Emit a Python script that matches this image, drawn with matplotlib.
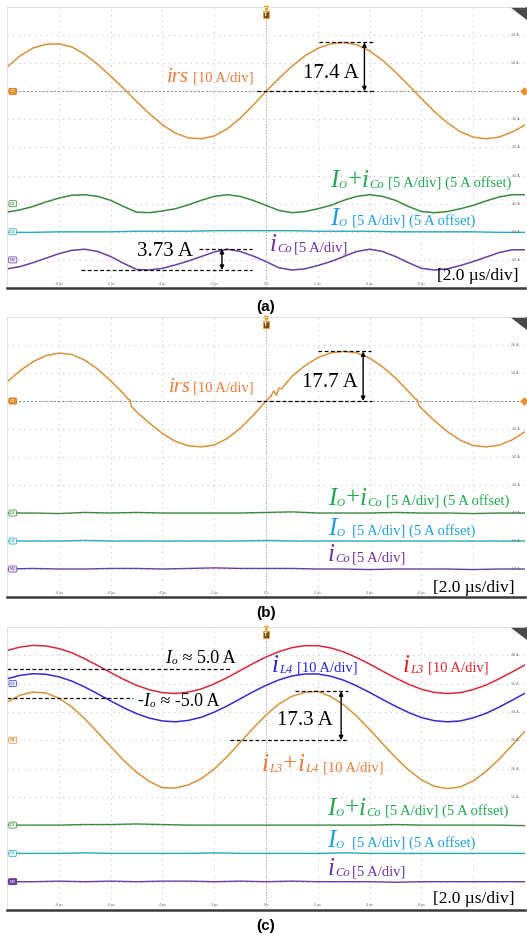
import matplotlib
matplotlib.use('Agg')
import matplotlib.pyplot as plt
from matplotlib.patches import Polygon

plt.rcParams['font.family'] = ['Liberation Serif', 'DejaVu Serif']

W, H = 527, 938

# ---- values (time in us, current in A) ----
t_half = [-10, -9.5, -9, -8.5, -8, -7.5, -7, -6.5, -6, -5.5, -5, -4.5, -4, -3.5,
          -3, -2.5, -2, -1.5, -1, -0.5, 0, 0.5, 1, 1.5, 2, 2.5, 3, 3.5, 4, 4.5,
          5, 5.5, 6, 6.5, 7, 7.5, 8, 8.5, 9, 9.5, 10]
t_one = [-10, -9, -8, -7, -6, -5, -4, -3, -2, -1, 0, 1, 2, 3, 4, 5, 6, 7, 8, 9, 10]

# (a)
irs_a = [8.6, 12.6, 15.4, 16.7, 16.9, 15.8, 13.2, 9.6, 5.4, 1.0,
         -3.6, -8.0, -11.9, -14.9, -16.6, -16.9, -15.9, -13.4, -9.6, -5.0,
         0.0, 4.6, 8.9, 12.6, 15.3, 16.9, 17.4, 16.6, 14.4, 11.0,
         6.8, 2.2, -2.6, -7.2, -11.2, -14.4, -16.3, -16.9, -16.3, -14.5, -12.0]
io_ico_a = [3.5, 3.9, 4.5, 5.3, 6.0, 6.5, 6.6, 6.3, 5.6, 4.5,
            3.5, 3.4, 3.7, 4.1, 4.8, 5.6, 6.3, 6.6, 6.3, 5.6,
            4.7, 3.8, 3.4, 3.6, 4.1, 4.7, 5.6, 6.3, 6.6, 6.3,
            5.6, 4.5, 3.6, 3.4, 3.6, 4.1, 4.7, 5.5, 6.2, 6.6, 6.6]
io_a = [4.9, 4.9, 5.0, 5.0, 5.0, 5.1, 5.1, 5.1, 5.2, 5.2, 5.2,
        5.2, 5.1, 5.1, 5.1, 5.0, 5.0, 5.0, 5.0, 4.9, 4.9]
ico_a = [-1.6, -1.2, -0.5, 0.3, 1.1, 1.7, 1.9, 1.5, 0.6, -0.6,
         -1.7, -1.8, -1.5, -0.9, -0.2, 0.6, 1.4, 1.9, 1.5, 0.7,
         -0.3, -1.4, -1.8, -1.6, -1.0, -0.3, 0.6, 1.5, 1.9, 1.5,
         0.6, -0.5, -1.5, -1.8, -1.6, -1.0, -0.3, 0.5, 1.3, 1.8, 1.8]

# (b)
t_irs_b = [-10, -9.5, -9, -8.5, -8, -7.5, -7, -6.5, -6, -5.5, -5.35, -5.25, -5.2,
           -5.0, -4.5, -4, -3.5, -3, -2.5, -2, -1.5, -1, -0.5, 0, 0.2, 0.3, 0.4,
           0.5, 0.6, 1, 1.5, 2, 2.5, 3, 3.5, 4, 4.5, 5, 5.5, 5.75, 5.85, 5.9, 6,
           6.5, 7, 7.5, 8, 8.5, 9, 9.5, 10]
irs_b = [6.8, 10.8, 14.0, 16.2, 17.1, 16.6, 14.6, 11.4, 7.2, 2.6, 0.9, 0.3, -1.9,
         -3.9, -7.9, -11.6, -14.4, -16.0, -16.4, -15.7, -13.4, -9.8, -5.2, 0.0, 1.9,
         3.6, 2.0, 4.6, 4.3, 8.8, 12.6, 15.5, 17.2, 17.7, 17.2, 15.3, 12.2, 8.2, 3.4,
         0.9, 0.3, -1.6, -2.6, -7.0, -10.9, -14.0, -15.9, -16.4, -15.8, -13.9, -11.0]
io_ico_b = [5.0, 5.0, 4.9, 5.1, 5.0, 5.1, 5.0, 5.0, 5.0, 5.0, 5.1,
            5.2, 5.0, 5.0, 5.0, 5.1, 5.0, 5.0, 4.9, 5.0, 5.0]
io_b = [5.0, 5.0, 5.0, 5.1, 5.0, 5.0, 5.0, 5.0, 5.0, 5.0, 5.1,
        5.0, 5.0, 5.0, 5.0, 5.0, 5.0, 5.0, 5.0, 5.0, 5.0]
ico_b = [0.0, 0.1, 0.0, 0.0, 0.1, 0.1, 0.0, 0.1, 0.2, 0.1, 0.1,
         0.1, 0.0, 0.0, -0.1, 0.0, 0.0, 0.0, -0.1, 0.0, 0.0]

# (c)
il3_c = [11.7, 12.9, 13.5, 13.3, 12.4, 10.9, 8.8, 6.4, 3.9, 1.5,
         -0.6, -2.2, -3.2, -3.5, -3.0, -1.9, -0.1, 2.1, 4.6, 7.1,
         9.4, 11.3, 12.7, 13.4, 13.4, 12.6, 11.2, 9.2, 6.9, 4.4,
         2.0, -0.2, -2.0, -3.1, -3.5, -3.2, -2.1, -0.5, 1.7, 4.1, 6.6]
il4_c = [1.7, 2.9, 3.5, 3.3, 2.4, 0.9, -1.2, -3.6, -6.1, -8.5,
         -10.6, -12.2, -13.2, -13.5, -13.0, -11.9, -10.1, -7.9, -5.4, -2.9,
         -0.6, 1.3, 2.7, 3.4, 3.4, 2.6, 1.2, -0.8, -3.1, -5.6,
         -8.0, -10.2, -12.0, -13.1, -13.5, -13.2, -12.1, -10.5, -8.3, -5.9, -3.4]
il34_c = [13.4, 15.9, 17.0, 16.7, 14.9, 11.8, 7.6, 2.8, -2.2, -7.1,
          -11.3, -14.6, -16.8, -16.9, -15.8, -13.6, -10.2, -5.8, -0.8, 4.2,
          8.9, 12.8, 15.5, 16.9, 17.3, 15.4, 12.5, 8.5, 3.8, -1.2,
          -6.1, -10.5, -14.0, -16.3, -17.1, -16.5, -14.4, -11.0, -6.7, -1.8, 3.2]
io_ico_c = [5.0, 5.0, 5.0, 5.1, 5.1, 5.2, 5.1, 5.0, 5.0, 5.0, 5.0,
            5.0, 5.0, 5.0, 5.0, 5.1, 5.0, 5.0, 5.0, 5.0, 4.9]
io_c = [5.0, 5.0, 5.0, 5.1, 5.0, 5.0, 5.0, 5.0, 5.1, 5.0, 5.0,
        5.0, 5.0, 5.1, 5.0, 5.0, 5.0, 5.0, 5.0, 5.0, 5.0]
ico_c = [0.0, 0.0, 0.1, 0.0, 0.1, 0.0, 0.1, 0.1, 0.0, 0.1, 0.0,
         0.1, 0.0, 0.0, 0.0, -0.1, 0.0, 0.0, 0.0, 0.0, 0.0]

# values written on the captures
irs_peak = [17.4, 17.7]
il34_peak = 17.3
ico_top, ico_pp = 1.95, 3.73
io_level = 5.0

# the 8 us label sits under the [2.0 us/div] text in the captures
tick_times = [-8, -6, -4, -2, 0, 2, 4, 6]
tick_names = ['-8 µs', '-6 µs', '-4 µs', '-2 µs', '0 s', '2 µs', '4 µs', '6 µs']
right_ab = ['20 A', '10 A', '', '-10 A', '-20 A', '-30 A', '-40 A', '-50 A', '-60 A']
right_c = ['40 A', '35 A', '30 A', '25 A', '20 A', '15 A', '', '', '']

# trace / label colours
OR_T, OR_L = '#D9923A', '#EE7B35'
GR_T, GR_L = '#3A8A3E', '#1FA84E'
CY_T, CY_L = '#2AABB5', '#1E9FE0'
PU_T, PU_L = '#6B3FA0', '#7030A0'
RD_T, RD_L = '#D42A3A', '#E32228'
BL_T, BL_L = '#2E2ED0', '#2323E6'

fig = plt.figure(figsize=(W / 100, H / 100), dpi=100)
renderer = fig.canvas.get_renderer()


def to_div(vals, pos, scale, off=0.0):
    return [pos + (v - off) / scale for v in vals]


def scope(top, bottom, right_names, tags, ref=None):
    ax = fig.add_axes([7 / W, 1 - bottom / H, 518 / W, (bottom - top) / H])
    ax.set_xlim(-10, 10)
    ax.set_ylim(-5, 5)
    ax.set_xticks([])
    ax.set_yticks([])
    for v in range(-8, 10, 2):
        ax.axvline(v, color='#c8c8c8', lw=0.8, ls=(0, (1, 4)), zorder=0)
    for d in range(-4, 5):
        ax.axhline(d, color='#c8c8c8', lw=0.8, ls=(0, (1, 4)), zorder=0)
    ax.axvline(0, color='#a0a0a0', lw=0.7, ls=(0, (1, 2)), zorder=0)
    if ref is not None:
        ax.axhline(ref, color='#8c8c8c', lw=0.7, ls=(0, (2, 2)), zorder=0)
    for s in ['top', 'left']:
        ax.spines[s].set_color('#dddddd')
        ax.spines[s].set_linewidth(0.6)
    ax.spines['right'].set_visible(False)
    ax.spines['bottom'].set_color('#3a3a3a')
    ax.spines['bottom'].set_linewidth(1.8)
    for tt, name in zip(tick_times, tick_names):
        ax.text(tt, -4.84, name, fontsize=2.3, color='#666666', ha='center',
                va='center', family='DejaVu Sans')
    for d, name in zip(range(4, -5, -1), right_names):
        ax.text(9.62, d, name, fontsize=2.3, color='#666666', ha='center',
                va='center', family='DejaVu Sans')
    # trigger marker
    ax.text(0, 4.74, 'T', fontsize=3.5, color='white', fontweight='bold',
            ha='center', va='center', family='DejaVu Sans',
            bbox=dict(boxstyle='square,pad=0.25', fc='#7a4e12', ec='#E8A030', lw=0.6))
    ax.plot([0], [4.97], marker='v', color='#E8A030', ms=3, clip_on=False)
    ax.add_patch(Polygon([(0.972, 1.0), (1.004, 1.0), (1.004, 0.955)],
                         closed=True, transform=ax.transAxes, fc='#4a4a4a',
                         ec='none', clip_on=False))
    for name, pos, ec, fc, tc in tags:
        ax.text(-9.78, pos, name, fontsize=3, color=tc, ha='center', va='center',
                family='DejaVu Sans',
                bbox=dict(boxstyle='round,pad=0.25', fc=fc, ec=ec, lw=0.5))
    return ax


def measure(ax, t0, t1, tb0, tb1, ta, ytop, ybot):
    ax.plot([t0, t1], [ytop, ytop], color='black', lw=0.9, ls=(0, (3, 2)))
    ax.plot([tb0, tb1], [ybot, ybot], color='black', lw=0.9, ls=(0, (3, 2)))
    ax.annotate('', xy=(ta, ytop), xytext=(ta, ybot),
                arrowprops=dict(arrowstyle='<|-|>', color='black', lw=1.0,
                                shrinkA=0, shrinkB=0, mutation_scale=6))


def chain(x, y, parts):
    for s, size, style, color, drop in parts:
        txt = fig.text(x / W, 1 - (y + drop) / H, s, fontsize=size, style=style,
                       color=color, va='baseline', ha='left')
        x += txt.get_window_extent(renderer).width + 0.5
    return x


def plain(x, y, s, color, size=10.5, **kw):
    fig.text(x / W, 1 - y / H, s, fontsize=size, color=color, va='baseline',
             ha='left', **kw)


def lab_io_ico(x, y):
    end = chain(x, y, [('I', 18, 'italic', GR_L, 0), ('O', 8, 'italic', GR_L, 1),
                       ('+', 18, 'normal', GR_L, 0), ('i', 18, 'italic', GR_L, 0),
                       ('Co', 9, 'italic', GR_L, 1)])
    plain(end + 3, y, '[5 A/div] (5 A offset)', GR_L)


def lab_io(x, y, bx):
    chain(x, y, [('I', 18, 'italic', CY_L, 0), ('O', 8, 'italic', CY_L, 1)])
    plain(bx, y, '[5 A/div] (5 A offset)', CY_L)


def lab_ico(x, y):
    end = chain(x, y, [('i', 18, 'italic', PU_L, 0), ('Co', 9, 'italic', PU_L, 1)])
    plain(end + 1.5, y, '[5 A/div]', PU_L)


def lab_irs(x, y, bx):
    chain(x, y, [('irs', 15, 'italic', OR_L, 0)])
    plain(bx, y, '[10 A/div]', OR_L)


tags_ab = [('C2', 2, '#c06a10', '#E8902A', 'white'),
           ('C3', -2, GR_T, '#e8f4e8', GR_T),
           ('C4', -3, CY_T, '#e6f6f7', CY_T),
           ('M2', -4, PU_T, '#efe6f6', PU_T)]

# ---------------- (a) ----------------
ax = scope(7, 288, right_ab, tags_ab, ref=2)
ax.plot(t_half, to_div(irs_a, 2, 10), color=OR_T, lw=1.1)
ax.plot(t_half, to_div(io_ico_a, -2, 5, 5), color=GR_T, lw=1.1)
ax.plot(t_one, to_div(io_a, -3, 5, 5), color=CY_T, lw=1.0)
ax.plot(t_half, to_div(ico_a, -4, 5), color=PU_T, lw=1.1)
ax.plot([9.95], [2], marker='D', color='#E8902A', ms=3.5, clip_on=False)
measure(ax, 2.05, 4.15, -0.35, 4.2, 3.8, 2 + irs_peak[0] / 10, 2)
measure(ax, -2.6, -0.55, -7.15, -0.55, -1.7, -4 + ico_top / 5,
        -4 + (ico_top - ico_pp) / 5)
lab_irs(167, 82, 193)
plain(303, 78, f'{irs_peak[0]} A', 'black', 15)
lab_io_ico(330, 187)
lab_io(330, 225, 352)
lab_ico(270, 251)
plain(137, 256, f'{ico_pp} A', 'black', 15)
plain(437, 280, '[2.0 µs/div]', 'black', 12.5)

# ---------------- (b) ----------------
ax = scope(317, 597, right_ab, tags_ab, ref=2)
ax.plot(t_irs_b, to_div(irs_b, 2, 10), color=OR_T, lw=1.1)
ax.plot(t_one, to_div(io_ico_b, -2, 5, 5), color=GR_T, lw=1.0)
ax.plot(t_one, to_div(io_b, -3, 5, 5), color=CY_T, lw=1.0)
ax.plot(t_one, to_div(ico_b, -4, 5), color=PU_T, lw=1.0)
ax.plot([9.95], [2], marker='D', color='#E8902A', ms=3.5, clip_on=False)
measure(ax, 2.0, 4.05, -0.35, 4.1, 3.75, 2 + irs_peak[1] / 10, 2)
lab_irs(169, 392, 193)
plain(302, 387, f'{irs_peak[1]} A', 'black', 15)
lab_io_ico(328, 505)
lab_io(328, 535, 352)
lab_ico(328, 561)
plain(433, 592, '[2.0 µs/div]', 'black', 12.5)

# ---------------- (c) ----------------
tags_c = [('C1', 3, BL_T, '#e8e8fb', BL_T),
          ('M1', 1, '#d9923a', '#fbf0e2', '#c07020'),
          ('C3', -2, GR_T, '#e8f4e8', GR_T),
          ('C4', -3, CY_T, '#e6f6f7', CY_T),
          ('M3', -4, '#4a2a70', PU_T, 'white')]
ax = scope(627, 910, right_c, tags_c)
ax.plot(t_half, to_div(il3_c, 3, 10), color=RD_T, lw=1.1)
ax.plot(t_half, to_div(il4_c, 3, 10), color=BL_T, lw=1.1)
ax.plot(t_half, to_div(il34_c, 1, 10), color=OR_T, lw=1.1)
ax.plot(t_one, to_div(io_ico_c, -2, 5, 5), color=GR_T, lw=1.0)
ax.plot(t_one, to_div(io_c, -3, 5, 5), color=CY_T, lw=1.0)
ax.plot(t_one, to_div(ico_c, -4, 5), color=PU_T, lw=1.0)
ax.plot([-10, -1.4], [3 + io_level / 10] * 2, color='black', lw=0.9, ls=(0, (3, 2)))
ax.plot([-10, -5.15], [3 - io_level / 10] * 2, color='black', lw=0.9, ls=(0, (3, 2)))
measure(ax, 1.12, 3.17, -1.39, 3.17, 2.9, 1 + il34_peak / 10, 1)

chain(165, 663, [('I', 13, 'italic', 'black', 0), ('o', 8, 'italic', 'black', 1),
                 (' ≈ 5.0 A', 13, 'normal', 'black', 0)])
chain(137, 706, [('-', 13, 'normal', 'black', 0), ('I', 13, 'italic', 'black', 0),
                 ('o', 8, 'italic', 'black', 1), (' ≈ -5.0 A', 13, 'normal', 'black', 0)])
chain(272, 672, [('i', 18, 'italic', BL_L, 0), ('L4', 9, 'italic', BL_L, 1)])
plain(297, 672, '[10 A/div]', BL_L)
chain(403, 672, [('i', 18, 'italic', RD_L, 0), ('L3', 9, 'italic', RD_L, 1)])
plain(428, 672, '[10 A/div]', RD_L)
plain(277, 725, f'{il34_peak} A', 'black', 15)
chain(262, 771, [('i', 18, 'italic', OR_L, 0), ('L3', 9, 'italic', OR_L, 1),
                 ('+', 18, 'normal', OR_L, 0), ('i', 18, 'italic', OR_L, 0),
                 ('L4', 9, 'italic', OR_L, 1)])
plain(323, 771, '[10 A/div]', OR_L)
lab_io_ico(327, 815)
lab_io(327, 847, 352)
lab_ico(328, 875)
plain(433, 903, '[2.0 µs/div]', 'black', 12.5)

# captions
for y, cap in [(307, '(a)'), (613, '(b)'), (926, '(c)')]:
    fig.text(266 / W, 1 - y / H, cap, fontsize=11, fontweight='bold',
             family='Liberation Sans', ha='center', va='center')

fig.savefig('out.png', dpi=100)
